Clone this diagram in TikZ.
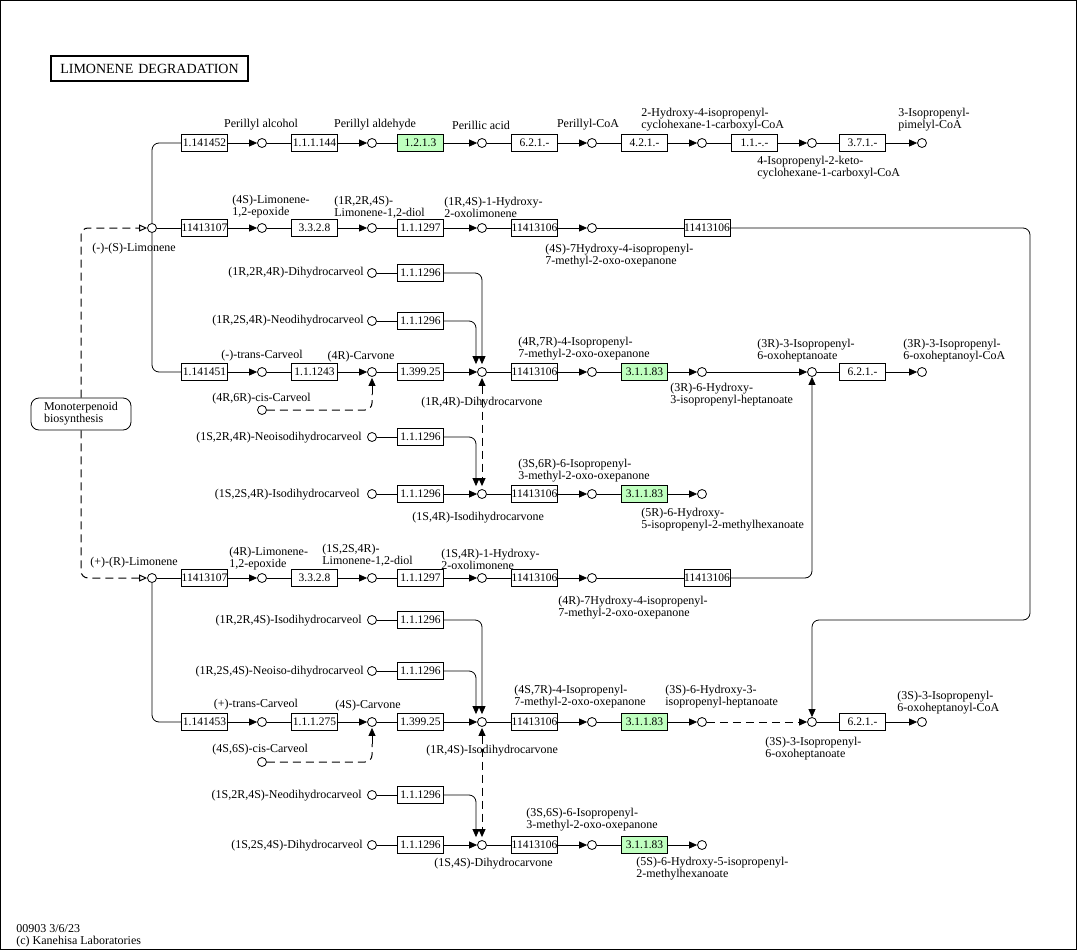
\documentclass[tikz,border=0pt]{standalone}
\usepackage{fontspec}
\setmainfont{Liberation Serif}
\usetikzlibrary{arrows.meta,shapes.misc}
\definecolor{ecgreen}{HTML}{BFFFBF}
\begin{document}
\begin{tikzpicture}[x=1pt,y=-1pt,line width=0.8pt,
  cpd/.style={circle,draw,minimum size=9pt,inner sep=0pt,fill=white},
  ec/.style={draw,fill=white,minimum width=46pt,minimum height=17pt,inner sep=0pt,font=\fontsize{11.5}{11.5}\selectfont},
  ecg/.style={ec,fill=ecgreen},
  lbl/.style={font=\fontsize{12}{12}\selectfont,inner sep=0pt,align=left},
  arr/.style={-{Triangle[length=8pt,width=7pt]}},
  barr/.style={{Triangle[length=8pt,width=7pt]}-{Triangle[length=8pt,width=7pt]}},
  dsh/.style={dash pattern=on 8pt off 5pt,line width=1pt},
  oarr/.style={dsh,-{Triangle[open,length=8pt,width=7pt]}},
  rc/.style={rounded corners=7pt}
]
\useasboundingbox (0,0) rectangle (1077,950);
\draw[line width=1pt] (0.5,0.5) rectangle (1076.5,949.5);

% title and footer
\node[draw,line width=1.6pt,minimum width=197pt,minimum height=25pt,inner sep=0pt,font=\fontsize{14}{14}\selectfont] (title) at (149.5,68.5) {LIMONENE\hspace{5pt}DEGRADATION};
\node[lbl,anchor=west] (foot) at (16,936) {00903 3/6/23\\(c) Kanehisa Laboratories};

% map node
\node[draw,rounded corners=8pt,minimum width=100pt,minimum height=32pt,inner sep=0pt,lbl] (mono) at (81,414) {Monoterpenoid\\biosynthesis};

% ---------- row 143
\node[cpd] (sLim) at (152,228) {};
\node[ec] (a1) at (204.5,143) {1.141452};
\node[cpd] (ac1) at (262,143) {};
\node[ec] (a2) at (314.5,143) {1.1.1.144};
\node[cpd] (ac2) at (372,143) {};
\node[ecg] (a3) at (420.5,143) {1.2.1.3};
\node[cpd] (ac3) at (482,143) {};
\node[ec] (a4) at (534.5,143) {6.2.1.-};
\node[cpd] (ac4) at (592,143) {};
\node[ec] (a5) at (644.5,143) {4.2.1.-};
\node[cpd] (ac5) at (702,143) {};
\node[ec] (a6) at (754.5,143) {1.1.-.-};
\node[cpd] (ac6) at (812,143) {};
\node[ec] (a7) at (862.5,143) {3.7.1.-};
\node[cpd] (ac7) at (922,143) {};
\draw[rc] (sLim.north) |- (a1.west);
\draw[arr] (a1) -- (ac1); \draw (ac1) -- (a2); \draw[arr] (a2) -- (ac2); \draw (ac2) -- (a3);
\draw[arr] (a3) -- (ac3); \draw (ac3) -- (a4); \draw[arr] (a4) -- (ac4); \draw (ac4) -- (a5);
\draw[arr] (a5) -- (ac5); \draw (ac5) -- (a6); \draw[arr] (a6) -- (ac6); \draw (ac6) -- (a7);
\draw[arr] (a7) -- (ac7);
\node[lbl] (la1) at (261,125) {Perillyl alcohol};
\node[lbl] (la2) at (375,125) {Perillyl aldehyde};
\node[lbl] (la3) at (481,125) {Perillic acid};
\node[lbl] (la4) at (588,125) {Perillyl-CoA};
\node[lbl,anchor=west] (la5) at (641,120) {2-Hydroxy-4-isopropenyl-\\cyclohexane-1-carboxyl-CoA};
\node[lbl,anchor=west] (la6) at (757,168) {4-Isopropenyl-2-keto-\\cyclohexane-1-carboxyl-CoA};
\node[lbl,anchor=west] (la7) at (898,120) {3-Isopropenyl-\\pimelyl-CoA};

% ---------- row 228
\node[ec] (b1) at (204.5,228) {11413107};
\node[cpd] (bc1) at (262,228) {};
\node[ec] (b2) at (314.5,228) {3.3.2.8};
\node[cpd] (bc2) at (372,228) {};
\node[ec] (b3) at (420.5,228) {1.1.1297};
\node[cpd] (bc3) at (482,228) {};
\node[ec] (b4) at (534.5,228) {11413106};
\node[cpd] (bc4) at (592,228) {};
\node[ec] (b5) at (707,228) {11413106};
\draw (sLim) -- (b1); \draw[arr] (b1) -- (bc1); \draw (bc1) -- (b2); \draw[arr] (b2) -- (bc2);
\draw (bc2) -- (b3); \draw[arr] (b3) -- (bc3); \draw (bc3) -- (b4); \draw[arr] (b4) -- (bc4);
\draw (bc4) -- (b5);
\node[lbl,anchor=west] (lb0) at (92,249) {(-)-(S)-Limonene};
\node[lbl,anchor=west] (lb1) at (232,207) {(4S)-Limonene-\\1,2-epoxide};
\node[lbl,anchor=west] (lb2) at (334,207) {(1R,2R,4S)-\\Limonene-1,2-diol};
\node[lbl,anchor=west] (lb3) at (444,207) {(1R,4S)-1-Hydroxy-\\2-oxolimonene};
\node[lbl,anchor=west] (lb4) at (545,256) {(4S)-7Hydroxy-4-isopropenyl-\\7-methyl-2-oxo-oxepanone};

% ---------- rows 273 / 321 / 372
\node[cpd] (dc1) at (372,273) {};
\node[ec] (d1) at (420.5,273) {1.1.1296};
\node[cpd] (dc2) at (372,321) {};
\node[ec] (d2) at (420.5,321) {1.1.1296};
\node[lbl,anchor=east] (ld1) at (364,273) {(1R,2R,4R)-Dihydrocarveol};
\node[lbl,anchor=east] (ld2) at (364,321) {(1R,2S,4R)-Neodihydrocarveol};

\node[ec] (g1) at (204.5,372) {1.141451};
\node[cpd] (gc1) at (262,372) {};
\node[ec] (g2) at (314.5,372) {1.1.1243};
\node[cpd] (carvR) at (372,372) {};
\node[ec] (g3) at (420.5,372) {1.399.25};
\node[cpd] (dhcR) at (482,372) {};
\node[ec] (g4) at (534.5,372) {11413106};
\node[cpd] (gc4) at (592,372) {};
\node[ecg] (g5) at (644.5,372) {3.1.1.83};
\node[cpd] (gc5) at (702,372) {};
\node[cpd] (oxR) at (812,372) {};
\node[ec] (g6) at (862.5,372) {6.2.1.-};
\node[cpd] (gc6) at (922,372) {};
\node[cpd] (cisR) at (262,410) {};
\draw[rc] (sLim.south) |- (g1.west);
\draw[arr] (g1) -- (gc1); \draw (gc1) -- (g2); \draw[arr] (g2) -- (carvR); \draw (carvR) -- (g3);
\draw[arr] (g3) -- (dhcR); \draw (dhcR) -- (g4); \draw[arr] (g4) -- (gc4); \draw (gc4) -- (g5);
\draw[arr] (g5) -- (gc5); \draw[arr] (gc5) -- (oxR); \draw (oxR) -- (g6); \draw[arr] (g6) -- (gc6);
\draw[dsh,rc] (cisR.east) -| ([yshift=-17pt]carvR.south);
\draw[arr] ([yshift=-17pt]carvR.south) -- ([yshift=-1pt]carvR.south);
\draw (dc1) -- (d1); \draw (dc2) -- (d2);
\draw[arr,rc] (d1.east) -| ([yshift=3pt]dhcR.north);
\draw[arr,rc] (d2.east) -| ([xshift=-6pt,yshift=3pt]dhcR.north);
\node[lbl] (lg1) at (262,356) {(-)-trans-Carveol};
\node[lbl] (lg2) at (361,357) {(4R)-Carvone};
\node[lbl,anchor=west] (lg3) at (212,399) {(4R,6R)-cis-Carveol};
\node[lbl,anchor=west] (lg4) at (421,403) {(1R,4R)-Dihydrocarvone};
\node[lbl,anchor=west] (lg5) at (518,349) {(4R,7R)-4-Isopropenyl-\\7-methyl-2-oxo-oxepanone};
\node[lbl,anchor=west] (lg6) at (670,395) {(3R)-6-Hydroxy-\\3-isopropenyl-heptanoate};
\node[lbl,anchor=west] (lg7) at (757,351) {(3R)-3-Isopropenyl-\\6-oxoheptanoate};
\node[lbl,anchor=west] (lg8) at (903,351) {(3R)-3-Isopropenyl-\\6-oxoheptanoyl-CoA};

% ---------- rows 437 / 494
\node[cpd] (hc1) at (372,437) {};
\node[ec] (h1) at (420.5,437) {1.1.1296};
\node[cpd] (hc2) at (372,494) {};
\node[ec] (h2) at (420.5,494) {1.1.1296};
\node[cpd] (idhcR) at (482,494) {};
\node[ec] (h3) at (534.5,494) {11413106};
\node[cpd] (hc3) at (592,494) {};
\node[ecg] (h4) at (644.5,494) {3.1.1.83};
\node[cpd] (hc4) at (702,494) {};
\draw (hc1) -- (h1); \draw (hc2) -- (h2); \draw[arr] (h2) -- (idhcR);
\draw (idhcR) -- (h3); \draw[arr] (h3) -- (hc3); \draw (hc3) -- (h4); \draw[arr] (h4) -- (hc4);
\draw[arr,rc] (h1.east) -| ([xshift=-6pt,yshift=3pt]idhcR.north);
\draw[dsh,barr] ([yshift=-1pt]dhcR.south) -- ([yshift=3pt]idhcR.north);
\node[lbl,anchor=east] (lh1) at (362,438) {(1S,2R,4R)-Neoisodihydrocarveol};
\node[lbl,anchor=east] (lh2) at (360,495) {(1S,2S,4R)-Isodihydrocarveol};
\node[lbl,anchor=west] (lh3) at (412,518) {(1S,4R)-Isodihydrocarvone};
\node[lbl,anchor=west] (lh4) at (518,471) {(3S,6R)-6-Isopropenyl-\\3-methyl-2-oxo-oxepanone};
\node[lbl,anchor=west] (lh5) at (641,520) {(5R)-6-Hydroxy-\\5-isopropenyl-2-methylhexanoate};

% ---------- row 578
\node[cpd] (rLim) at (152,578) {};
\node[ec] (k1) at (204.5,578) {11413107};
\node[cpd] (kc1) at (262,578) {};
\node[ec] (k2) at (314.5,578) {3.3.2.8};
\node[cpd] (kc2) at (372,578) {};
\node[ec] (k3) at (420.5,578) {1.1.1297};
\node[cpd] (kc3) at (482,578) {};
\node[ec] (k4) at (534.5,578) {11413106};
\node[cpd] (kc4) at (592,578) {};
\node[ec] (k5) at (707,578) {11413106};
\draw (rLim) -- (k1); \draw[arr] (k1) -- (kc1); \draw (kc1) -- (k2); \draw[arr] (k2) -- (kc2);
\draw (kc2) -- (k3); \draw[arr] (k3) -- (kc3); \draw (kc3) -- (k4); \draw[arr] (k4) -- (kc4);
\draw (kc4) -- (k5);
\draw[arr,rc] (k5.east) -| (oxR.south);
\node[lbl,anchor=west] (lk0) at (90,563) {(+)-(R)-Limonene};
\node[lbl,anchor=west] (lk1) at (229,559) {(4R)-Limonene-\\1,2-epoxide};
\node[lbl,anchor=west] (lk2) at (322,555) {(1S,2S,4R)-\\Limonene-1,2-diol};
\node[lbl,anchor=west] (lk3) at (441,559) {(1S,4R)-1-Hydroxy-\\2-oxolimonene};
\node[lbl,anchor=west] (lk4) at (558,608) {(4R)-7Hydroxy-4-isopropenyl-\\7-methyl-2-oxo-oxepanone};

% map links
\draw[oarr,rc] (mono.north) |- (sLim.west);
\draw[oarr,rc] (mono.south) |- (rLim.west);

% ---------- rows 620 / 671 / 722
\node[cpd] (mc1) at (372,620) {};
\node[ec] (m1) at (420.5,620) {1.1.1296};
\node[cpd] (mc2) at (372,671) {};
\node[ec] (m2) at (420.5,671) {1.1.1296};
\node[lbl,anchor=east] (lm1) at (362,621) {(1R,2R,4S)-Isodihydrocarveol};
\node[lbl,anchor=east] (lm2) at (364,672) {(1R,2S,4S)-Neoiso-dihydrocarveol};

\node[ec] (n1) at (204.5,722) {1.141453};
\node[cpd] (nc1) at (262,722) {};
\node[ec] (n2) at (314.5,722) {1.1.1.275};
\node[cpd] (carvS) at (372,722) {};
\node[ec] (n3) at (420.5,722) {1.399.25};
\node[cpd] (idhcS) at (482,722) {};
\node[ec] (n4) at (534.5,722) {11413106};
\node[cpd] (nc4) at (592,722) {};
\node[ecg] (n5) at (644.5,722) {3.1.1.83};
\node[cpd] (nc5) at (702,722) {};
\node[cpd] (oxS) at (812,722) {};
\node[ec] (n6) at (862.5,722) {6.2.1.-};
\node[cpd] (nc6) at (922,722) {};
\node[cpd] (cisS) at (262,762) {};
\draw[rc] (rLim.south) |- (n1.west);
\draw[arr] (n1) -- (nc1); \draw (nc1) -- (n2); \draw[arr] (n2) -- (carvS); \draw (carvS) -- (n3);
\draw[arr] (n3) -- (idhcS); \draw (idhcS) -- (n4); \draw[arr] (n4) -- (nc4); \draw (nc4) -- (n5);
\draw[arr] (n5) -- (nc5); \draw[dsh,arr] (nc5) -- (oxS); \draw (oxS) -- (n6); \draw[arr] (n6) -- (nc6);
\draw[dsh,rc] (cisS.east) -| ([yshift=-17pt]carvS.south);
\draw[arr] ([yshift=-17pt]carvS.south) -- ([yshift=-1pt]carvS.south);
\draw (mc1) -- (m1); \draw (mc2) -- (m2);
\draw[arr,rc] (m1.east) -| ([yshift=3pt]idhcS.north);
\draw[arr,rc] (m2.east) -| ([xshift=-6pt,yshift=3pt]idhcS.north);
\coordinate (turn) at (1030,620);
\draw[arr,rc] (b5.east) -| (turn) -| (oxS.north);
\node[lbl] (ln1) at (256,705) {(+)-trans-Carveol};
\node[lbl] (ln2) at (368,706) {(4S)-Carvone};
\node[lbl,anchor=west] (ln3) at (212,750) {(4S,6S)-cis-Carveol};
\node[lbl,anchor=west] (ln4) at (426,751) {(1R,4S)-Isodihydrocarvone};
\node[lbl,anchor=west] (ln5) at (514,697) {(4S,7R)-4-Isopropenyl-\\7-methyl-2-oxo-oxepanone};
\node[lbl,anchor=west] (ln6) at (665,697) {(3S)-6-Hydroxy-3-\\isopropenyl-heptanoate};
\node[lbl,anchor=west] (ln7) at (765,749) {(3S)-3-Isopropenyl-\\6-oxoheptanoate};
\node[lbl,anchor=west] (ln8) at (897,703) {(3S)-3-Isopropenyl-\\6-oxoheptanoyl-CoA};

% ---------- rows 795 / 845
\node[cpd] (pc1) at (372,795) {};
\node[ec] (p1) at (420.5,795) {1.1.1296};
\node[cpd] (pc2) at (372,845) {};
\node[ec] (p2) at (420.5,845) {1.1.1296};
\node[cpd] (dhcS) at (482,845) {};
\node[ec] (p3) at (534.5,845) {11413106};
\node[cpd] (pc3) at (592,845) {};
\node[ecg] (p4) at (644.5,845) {3.1.1.83};
\node[cpd] (pc4) at (702,845) {};
\draw (pc1) -- (p1); \draw (pc2) -- (p2); \draw[arr] (p2) -- (dhcS);
\draw (dhcS) -- (p3); \draw[arr] (p3) -- (pc3); \draw (pc3) -- (p4); \draw[arr] (p4) -- (pc4);
\draw[arr,rc] (p1.east) -| ([xshift=-6pt,yshift=3pt]dhcS.north);
\draw[dsh,barr] ([yshift=-1pt]idhcS.south) -- ([yshift=3pt]dhcS.north);
\node[lbl,anchor=east] (lp1) at (362,796) {(1S,2R,4S)-Neodihydrocarveol};
\node[lbl,anchor=east] (lp2) at (363,846) {(1S,2S,4S)-Dihydrocarveol};
\node[lbl,anchor=west] (lp3) at (434,864) {(1S,4S)-Dihydrocarvone};
\node[lbl,anchor=west] (lp4) at (526,820) {(3S,6S)-6-Isopropenyl-\\3-methyl-2-oxo-oxepanone};
\node[lbl,anchor=west] (lp5) at (636,869) {(5S)-6-Hydroxy-5-isopropenyl-\\2-methylhexanoate};
\end{tikzpicture}
\end{document}
